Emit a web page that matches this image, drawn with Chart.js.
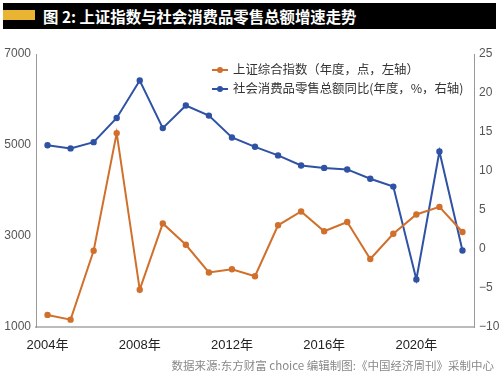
<!DOCTYPE html>
<html>
<head>
<meta charset="utf-8">
<script src="https://cdn.jsdelivr.net/npm/chart.js@4"></script>
<style>
  body { margin: 0; background: #fff; }
  #wrap { position: relative; width: 500px; height: 377px; font-family: "Noto Sans CJK SC", "Liberation Sans", sans-serif; }
  #titlebar { position: absolute; left: 3px; top: 3px; width: 493px; height: 26px; background: #000; }
  #goldbar { position: absolute; left: 0; top: 7px; width: 32px; height: 10px; background: #E8B432; }
  #title { position: absolute; left: 40px; top: 0; line-height: 26px; color: #fff; font-size: 15.4px; font-weight: bold; white-space: nowrap; }
  .leg { position: absolute; left: 212px; font-size: 12.4px; color: #333; white-space: nowrap; line-height: 16px; }
  .leg i { display: inline-block; position: relative; width: 16px; height: 2px; vertical-align: middle; margin-right: 5px; margin-top: -2px; }
  .leg i b { position: absolute; left: 5px; top: -2px; width: 6px; height: 6px; border-radius: 3px; }
  #source { position: absolute; right: 6px; top: 357px; font-size: 11.5px; color: #888; white-space: nowrap; }
  canvas { position: absolute; left: 0; top: 0; }
</style>
</head>
<body>
<div id="wrap">
  <canvas id="chart" width="500" height="377"></canvas>
  <div id="titlebar"><div id="goldbar"></div><div id="title">图 2: 上证指数与社会消费品零售总额增速走势</div></div>
  <div class="leg" style="top:61px"><i style="background:#D0702C"><b style="background:#D0702C"></b></i>上证综合指数（年度，点，左轴）</div>
  <div class="leg" style="top:80px"><i style="background:#2F52A4"><b style="background:#2F52A4"></b></i>社会消费品零售总额同比(年度，%，右轴)</div>
  <div id="source">数据来源:东方财富 choice 编辑制图:《中国经济周刊》采制中心</div>
</div>
<script>
// Data
const years = ["2004", "2005", "2006", "2007", "2008", "2009", "2010", "2011", "2012", "2013",
  "2014", "2015", "2016", "2017", "2018", "2019", "2020", "2021", "2022"];
const shIndex = [1266, 1161, 2675, 5261, 1820, 3277, 2808, 2199, 2269, 2116,
  3235, 3539, 3104, 3307, 2494, 3050, 3473, 3640, 3089];
const retailGrowth = [13.3, 12.9, 13.7, 16.8, 21.6, 15.5, 18.4, 17.1, 14.3, 13.1,
  12.0, 10.7, 10.4, 10.2, 9.0, 8.0, -3.9, 12.5, -0.2];
const leftTicks = [1000, 3000, 5000, 7000];
const rightTicks = [-10, -5, 0, 5, 10, 15, 20, 25];

const orange = "#D0702C";
const blue = "#2F52A4";
const tickFont = { family: "'Liberation Sans', Arial, sans-serif", size: 12 };

new Chart(document.getElementById("chart"), {
  type: "line",
  data: {
    labels: years,
    datasets: [
      {
        label: "上证综合指数（年度，点，左轴）",
        data: shIndex,
        yAxisID: "y",
        borderColor: orange,
        backgroundColor: orange,
        borderWidth: 2,
        pointRadius: 2.2,
        tension: 0,
      },
      {
        label: "社会消费品零售总额同比(年度，%，右轴)",
        data: retailGrowth,
        yAxisID: "y1",
        borderColor: blue,
        backgroundColor: blue,
        borderWidth: 2,
        pointRadius: 2.2,
        tension: 0,
      },
    ],
  },
  options: {
    responsive: false,
    animation: false,
    layout: { padding: { top: 54, bottom: 20, left: 0, right: 0 } },
    plugins: { legend: { display: false }, tooltip: { enabled: false } },
    scales: {
      x: {
        offset: true,
        grid: { display: false, drawTicks: false },
        border: { color: "#bbb", width: 2 },
        ticks: {
          autoSkip: false,
          maxRotation: 0,
          color: "#222",
          font: { family: "'Liberation Sans', 'Noto Sans CJK SC', sans-serif", size: 13 },
          padding: 11,
          callback: function (v, i) {
            return i % 4 === 0 ? years[i] + "年" : "";
          },
        },
        afterFit: function (s) { s.height = 30; },
      },
      y: {
        position: "left",
        min: 1000,
        max: 7000,
        grid: { display: false, drawTicks: false },
        border: { color: "#999", width: 1 },
        afterBuildTicks: function (s) { s.ticks = leftTicks.map(v => ({ value: v })); },
        ticks: { color: "#555", font: tickFont, padding: 5, callback: v => String(v) },
        afterFit: function (s) { s.width = 36; },
      },
      y1: {
        position: "right",
        min: -10,
        max: 25,
        grid: { display: false, drawTicks: false },
        border: { color: "#999", width: 1 },
        afterBuildTicks: function (s) { s.ticks = rightTicks.map(v => ({ value: v })); },
        ticks: {
          color: "#555",
          font: tickFont,
          padding: 5,
          callback: v => (v < 0 ? "\u2212" + Math.abs(v) : String(v)),
        },
        afterFit: function (s) { s.width = 26; },
      },
    },
  },
});
</script>
</body>
</html>
